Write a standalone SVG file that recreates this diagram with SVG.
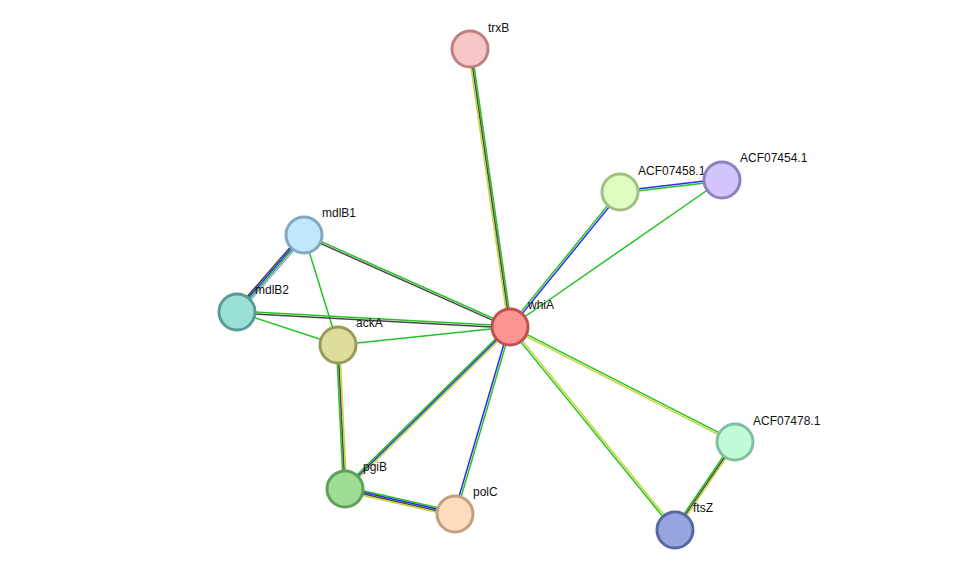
<svg xmlns="http://www.w3.org/2000/svg" width="976" height="575" viewBox="0 0 976 575">
<style>
.g{stroke:#22c322}.k{stroke:#474747}.y{stroke:#c4d62e}.b{stroke:#2b2bf0}.lb{stroke:#9ea6f0}
line{stroke-width:1.5;fill:none}
.n{stroke-width:3}
text{font-family:"Liberation Sans",Arial,sans-serif;font-size:12px;fill:#111}
</style>
<rect width="976" height="575" fill="#fff"/>
<g id="edges">
<!-- trxB-whiA -->
<line class="g" x1="471.6" y1="48.8" x2="511.6" y2="326.8"/>
<line class="k" x1="470" y1="49" x2="510" y2="327"/>
<line class="y" x1="468.4" y1="49.2" x2="508.4" y2="327.2"/>
<!-- ACF07458-whiA -->
<line class="g" x1="619.2" y1="191.4" x2="509.2" y2="326.4"/>
<line class="b" x1="620.8" y1="192.6" x2="510.8" y2="327.6"/>
<!-- ACF07458-ACF07454 -->
<line class="b" x1="619.9" y1="191" x2="721.9" y2="179"/>
<line class="g" x1="620.1" y1="193" x2="722.1" y2="181"/>
<!-- ACF07454-whiA -->
<line class="g" x1="722" y1="180" x2="510" y2="327"/>
<!-- mdlB1-whiA -->
<line class="g" x1="304.4" y1="234.1" x2="510.4" y2="326.1"/>
<line class="k" x1="303.6" y1="235.9" x2="509.6" y2="327.9"/>
<!-- mdlB1-mdlB2 -->
<line class="k" x1="302.2" y1="233.4" x2="235.2" y2="310.4"/>
<line class="b" x1="303.4" y1="234.5" x2="236.4" y2="311.5"/>
<line class="g" x1="304.6" y1="235.5" x2="237.6" y2="312.5"/>
<line class="lb" x1="305.8" y1="236.6" x2="238.8" y2="313.6"/>
<!-- mdlB1-ackA -->
<line class="g" x1="304" y1="235" x2="338" y2="345"/>
<!-- mdlB2-whiA -->
<line class="g" x1="237.1" y1="311" x2="510.1" y2="326"/>
<line class="k" x1="236.9" y1="313" x2="509.9" y2="328"/>
<!-- mdlB2-ackA -->
<line class="g" x1="237" y1="312" x2="338" y2="345"/>
<!-- ackA-whiA -->
<line class="g" x1="338" y1="345" x2="510" y2="327"/>
<!-- ackA-pgiB -->
<line class="g" x1="336.4" y1="345.1" x2="343.4" y2="489.1"/>
<line class="k" x1="338" y1="345" x2="345" y2="489"/>
<line class="y" x1="339.6" y1="344.9" x2="346.6" y2="488.9"/>
<!-- whiA-pgiB -->
<line class="g" x1="508.9" y1="325.9" x2="343.9" y2="487.9"/>
<line class="b" x1="510" y1="327" x2="345" y2="489"/>
<line class="y" x1="511.1" y1="328.1" x2="346.1" y2="490.1"/>
<!-- whiA-polC -->
<line class="b" x1="509" y1="326.7" x2="454" y2="513.7"/>
<line class="g" x1="511" y1="327.3" x2="456" y2="514.3"/>
<!-- pgiB-polC -->
<line class="g" x1="345.5" y1="486.7" x2="455.5" y2="511.7"/>
<line class="b" x1="345.2" y1="488.2" x2="455.2" y2="513.2"/>
<line class="k" x1="344.8" y1="489.8" x2="454.8" y2="514.8"/>
<line class="y" x1="344.5" y1="491.3" x2="454.5" y2="516.3"/>
<!-- whiA-ACF07478 -->
<line class="g" x1="510.5" y1="326.1" x2="735.5" y2="441.1"/>
<line class="y" x1="509.5" y1="327.9" x2="734.5" y2="442.9"/>
<!-- whiA-ftsZ -->
<line class="g" x1="509.2" y1="327.6" x2="674.2" y2="530.6"/>
<line class="y" x1="510.8" y1="326.4" x2="675.8" y2="529.4"/>
<!-- ACF07478-ftsZ -->
<line class="g" x1="733.7" y1="441.1" x2="673.7" y2="529.1"/>
<line class="k" x1="735" y1="442" x2="675" y2="530"/>
<line class="y" x1="736.3" y1="442.9" x2="676.3" y2="530.9"/>
</g>
<g id="trxB"><circle class="n" cx="470" cy="49" r="18" fill="#f7c6c6" stroke="#c08080"/><text x="488" y="32">trxB</text></g>
<g id="ACF07458.1"><circle class="n" cx="620" cy="192" r="18" fill="#e0fcc0" stroke="#a0c080"/><text x="638" y="175">ACF07458.1</text></g>
<g id="ACF07454.1"><circle class="n" cx="722" cy="180" r="18" fill="#d4c4fc" stroke="#9080c0"/><text x="740" y="162">ACF07454.1</text></g>
<g id="mdlB1"><circle class="n" cx="304" cy="235" r="18" fill="#c0e8fc" stroke="#80a8c0"/><text x="322" y="217">mdlB1</text></g>
<g id="mdlB2"><circle class="n" cx="237" cy="312" r="18" fill="#98e0d8" stroke="#5a9a98"/><text x="255" y="294">mdlB2</text></g>
<g id="ackA"><circle class="n" cx="338" cy="345" r="18" fill="#dede9a" stroke="#9a9a58"/><text x="356" y="327">ackA</text></g>
<g id="whiA"><circle class="n" cx="510" cy="327" r="18" fill="#fc9494" stroke="#c05050"/><text x="528" y="309">whiA</text></g>
<g id="ACF07478.1"><circle class="n" cx="735" cy="442" r="18" fill="#c0fcd8" stroke="#80c0a0"/><text x="753" y="425">ACF07478.1</text></g>
<g id="pgiB"><circle class="n" cx="345" cy="489" r="18" fill="#9ede94" stroke="#5ea058"/><text x="363" y="471">pgiB</text></g>
<g id="polC"><circle class="n" cx="455" cy="514" r="18" fill="#fcdcbc" stroke="#c0a080"/><text x="473" y="496">polC</text></g>
<g id="ftsZ"><circle class="n" cx="675" cy="530" r="18" fill="#98a4e0" stroke="#5868a0"/><text x="693" y="512">ftsZ</text></g>
</svg>
